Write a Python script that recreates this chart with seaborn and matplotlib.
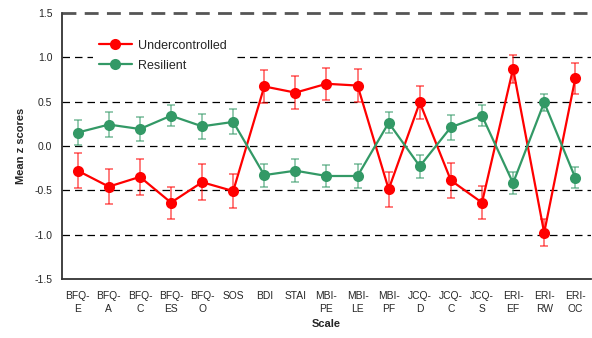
import numpy as np
import pandas as pd
import matplotlib
matplotlib.use("Agg")
import matplotlib.pyplot as plt
import seaborn as sns

# scales on the x axis
scales = ["BFQ-\nE", "BFQ-\nA", "BFQ-\nC", "BFQ-\nES", "BFQ-\nO", "SOS", "BDI", "STAI",
          "MBI-\nPE", "MBI-\nLE", "MBI-\nPF", "JCQ-\nD", "JCQ-\nC", "JCQ-\nS",
          "ERI-\nEF", "ERI-\nRW", "ERI-\nOC"]

# mean z scores
under_mean = [-0.28, -0.46, -0.35, -0.64, -0.41, -0.51, 0.67, 0.60, 0.70, 0.68,
              -0.49, 0.49, -0.39, -0.64, 0.87, -0.98, 0.76]
resil_mean = [0.15, 0.24, 0.19, 0.34, 0.22, 0.27, -0.33, -0.28, -0.34, -0.34,
              0.26, -0.23, 0.21, 0.34, -0.42, 0.49, -0.36]

# error bar half widths
under_err = [0.20, 0.20, 0.20, 0.18, 0.20, 0.19, 0.19, 0.19, 0.18, 0.19,
             0.20, 0.19, 0.20, 0.19, 0.16, 0.15, 0.17]
resil_err = [0.14, 0.14, 0.14, 0.12, 0.14, 0.14, 0.13, 0.13, 0.12, 0.13,
             0.12, 0.13, 0.14, 0.12, 0.12, 0.10, 0.12]

red = "#ff0000"
green = "#339966"

sns.set_style("white")
plt.rcParams['font.family'] = ['Liberation Sans', 'DejaVu Sans']

df = pd.DataFrame({
    "pos": list(range(len(scales))) * 2,
    "z": under_mean + resil_mean,
    "group": ["Undercontrolled"] * len(scales) + ["Resilient"] * len(scales),
})

fig, ax = plt.subplots(figsize=(5.92, 3.38), dpi=100)
fig.subplots_adjust(left=0.105, right=0.998, top=0.962, bottom=0.175)

x = np.arange(len(scales))
ax.errorbar(x, under_mean, yerr=under_err, fmt="none", ecolor=red, alpha=0.6,
            elinewidth=1.2, capsize=3, capthick=1.2, zorder=2)
ax.errorbar(x, resil_mean, yerr=resil_err, fmt="none", ecolor=green, alpha=0.6,
            elinewidth=1.2, capsize=3, capthick=1.2, zorder=2)

sns.lineplot(data=df, x="pos", y="z", hue="group",
             palette={"Undercontrolled": red, "Resilient": green},
             marker="o", markersize=8, markeredgewidth=0, linewidth=1.6,
             ax=ax, zorder=3)

for yv in [-1.0, -0.5, 0.0, 0.5, 1.0]:
    ax.axhline(yv, color="black", linestyle=(0, (6, 4)), linewidth=0.9, zorder=1)
ax.axhline(1.5, color="#555555", linestyle=(0, (5, 3)), linewidth=2.0, zorder=1, clip_on=False)

ax.set_xlim(-0.5, len(scales) - 0.5)
ax.set_ylim(-1.5, 1.5)
ax.set_yticks([-1.5, -1.0, -0.5, 0.0, 0.5, 1.0, 1.5])
ax.set_yticklabels(["-1.5", "-1.0", "-0.5", "0.0", "0.5", "1.0", "1.5"], fontsize=7.5)
ax.set_xticks(x)
ax.set_xticklabels(scales, fontsize=7.4, linespacing=1.3)
ax.tick_params(axis="x", length=0, pad=9)
ax.set_xticks(np.arange(-0.5, len(scales) + 0.5, 1), minor=True)
ax.tick_params(axis="x", which="minor", length=5, width=1, color="#333333", direction="out")
ax.tick_params(axis="y", length=5, width=1, color="#333333", direction="out", pad=2)

for s in ["top", "right"]:
    ax.spines[s].set_visible(False)
for s in ["left", "bottom"]:
    ax.spines[s].set_color("#333333")
    ax.spines[s].set_linewidth(1.3)

ax.set_xlabel("Scale", fontsize=8, fontweight="bold", labelpad=4)
ax.set_ylabel("Mean z scores", fontsize=8, fontweight="bold", labelpad=6)

leg = ax.legend(loc="upper left", bbox_to_anchor=(0.058, 0.923), frameon=True,
                fontsize=9, handlelength=2.6, handletextpad=0.5, labelspacing=0.65,
                borderpad=0.5, borderaxespad=0)
leg.get_frame().set_facecolor("white")
leg.get_frame().set_edgecolor("none")
leg.get_frame().set_alpha(1.0)
leg.get_frame().set_boxstyle("square", pad=0)
leg.set_zorder(5)
for h in leg.legend_handles:
    h.set_markersize(8)

fig.savefig("out.png", dpi=100)
